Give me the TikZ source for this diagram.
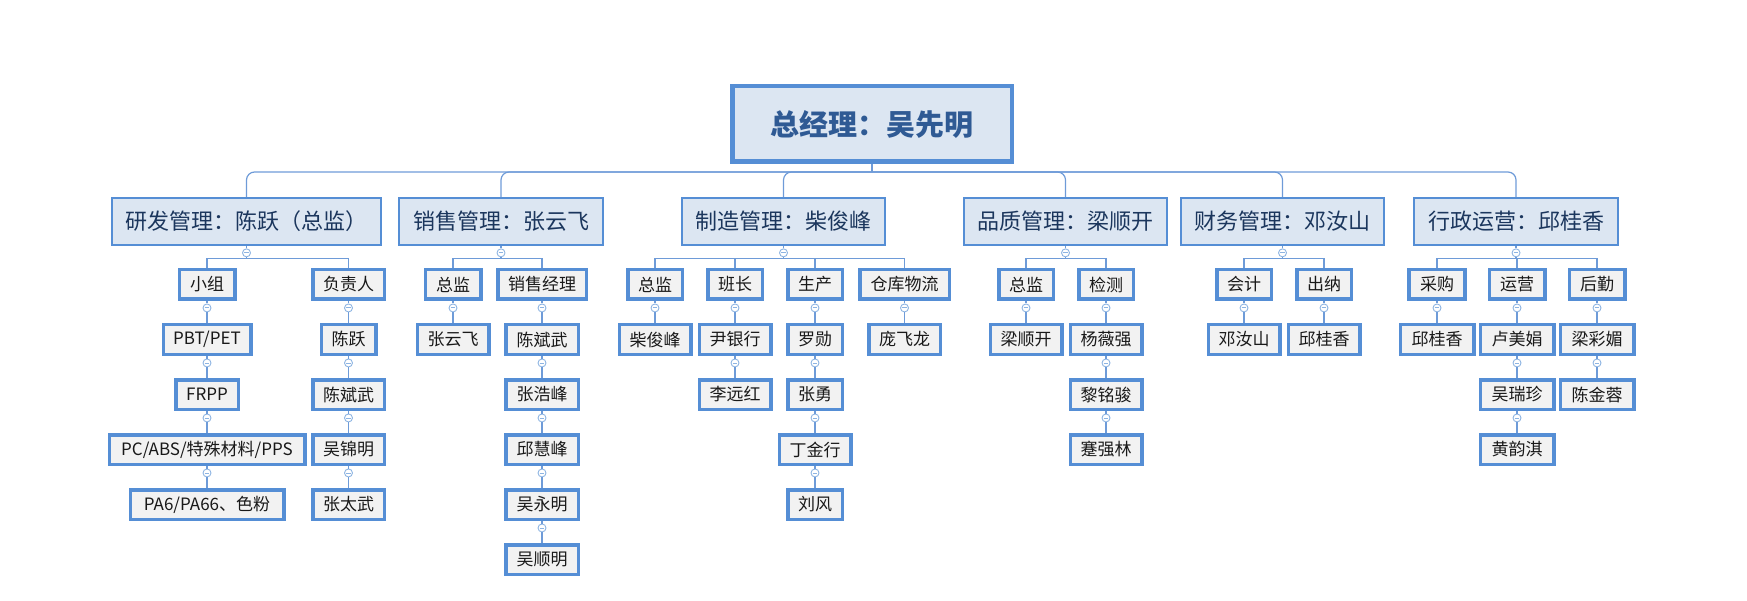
\documentclass[tikz,border=0pt]{standalone}
\usepackage{fontspec}
\setmainfont{Noto Sans CJK SC}
\usetikzlibrary{positioning}
\definecolor{bd}{HTML}{558ED5}
\definecolor{lonefill}{HTML}{DCE6F2}
\definecolor{ltwofill}{HTML}{F2F2F2}
\definecolor{roottxt}{HTML}{2F5A94}
\definecolor{lonetxt}{HTML}{1B365D}
\definecolor{ln}{HTML}{6E9BD8}
\definecolor{cc}{HTML}{8DB4E2}
\newcommand\mylink[2]{%
  \node[coll, below=2.5pt of #1] (k#1) {};
  \draw[conn] (#1.south) -- (k#1.north);
  \draw[conn] (k#1.south) -- (#2.north);}
\newcommand\myfan[2]{%
  \node[coll, below=2.5pt of #1] (k#1) {};
  \draw[conn] (#1.south) -- (k#1.north);
  \draw[conn] (k#1.south) -- ++(0,1.5) coordinate (h#1);
  \foreach \c in {#2} {\draw[conn] (h#1) -| (\c.north);}}
\begin{document}
\begin{tikzpicture}[x=1pt,y=-1pt,
  rootbox/.style={draw=bd, line width=4.5pt, fill=lonefill, minimum width=279.5pt, minimum height=75.5pt, inner sep=0pt, font=\fontsize{29}{32}\selectfont\bfseries, text=roottxt},
  lone/.style={draw=bd, line width=1.8pt, fill=lonefill, minimum height=47pt, inner sep=0pt, font=\fontsize{22}{26}\selectfont, text=lonetxt},
  ltwo/.style={draw=bd, line width=3.5pt, fill=ltwofill, minimum height=29.5pt, inner sep=0pt, font=\fontsize{17}{20}\selectfont, text=black!90},
  coll/.style={circle, draw=cc, fill=white, line width=0.9pt, minimum size=8pt, inner sep=0pt,
    path picture={\draw[cc,line width=0.9pt] ([xshift=-2.4pt]path picture bounding box.center) -- ([xshift=2.4pt]path picture bounding box.center);}},
  conn/.style={draw=ln, line width=1.2pt}]
\useasboundingbox (0,0) rectangle (1747,601);
% root
\node[rootbox] (root) at (872,124) {总经理：吴先明};
% level 1
\node[lone, minimum width=269pt] (A) at (246.5,221.5) {研发管理：陈跃（总监）};
\node[lone, minimum width=204pt] (B) at (501,221.5) {销售管理：张云飞};
\node[lone, minimum width=203pt] (C) at (783.5,221.5) {制造管理：柴俊峰};
\node[lone, minimum width=203pt] (D) at (1065.5,221.5) {品质管理：梁顺开};
\node[lone, minimum width=203pt] (E) at (1282.5,221.5) {财务管理：邓汝山};
\node[lone, minimum width=204pt] (F) at (1516,221.5) {行政运营：邱桂香};
% group A
\node[ltwo, minimum width=55.5pt] (a1) at (207,284.5) {小组};
\node[ltwo, minimum width=71.5pt] (a2) at (348.5,284.5) {负责人};
\node[ltwo, minimum width=87.5pt] (a11) at (207,339.5) {PBT/PET};
\node[ltwo, minimum width=62.5pt] (a12) at (207,394.5) {FRPP};
\node[ltwo, minimum width=195.5pt] (a13) at (207,449.5) {PC/ABS/特殊材料/PPS};
\node[ltwo, minimum width=153.5pt] (a14) at (207,504.5) {PA6/PA66、色粉};
\node[ltwo, minimum width=54.5pt] (a21) at (348.5,339.5) {陈跃};
\node[ltwo, minimum width=71.5pt] (a22) at (348.5,394.5) {陈斌武};
\node[ltwo, minimum width=71.5pt] (a23) at (348.5,449.5) {吴锦明};
\node[ltwo, minimum width=71.5pt] (a24) at (348.5,504.5) {张太武};
% group B
\node[ltwo, minimum width=55.5pt] (b1) at (453,284.5) {总监};
\node[ltwo, minimum width=88.5pt] (b2) at (542,284.5) {销售经理};
\node[ltwo, minimum width=71.5pt] (b11) at (453,339.5) {张云飞};
\node[ltwo, minimum width=72.5pt] (b21) at (542,339.5) {陈斌武};
\node[ltwo, minimum width=72.5pt] (b22) at (542,394.5) {张浩峰};
\node[ltwo, minimum width=72.5pt] (b23) at (542,449.5) {邱慧峰};
\node[ltwo, minimum width=72.5pt] (b24) at (542,504.5) {吴永明};
\node[ltwo, minimum width=72.5pt] (b25) at (542,559.5) {吴顺明};
% group C
\node[ltwo, minimum width=54.5pt] (c1) at (655,284.5) {总监};
\node[ltwo, minimum width=54.5pt] (c2) at (735,284.5) {班长};
\node[ltwo, minimum width=54.5pt] (c3) at (815,284.5) {生产};
\node[ltwo, minimum width=89.5pt] (c4) at (904.5,284.5) {仓库物流};
\node[ltwo, minimum width=71.5pt] (c11) at (655,339.5) {柴俊峰};
\node[ltwo, minimum width=71.5pt] (c21) at (735,339.5) {尹银行};
\node[ltwo, minimum width=71.5pt] (c22) at (735,394.5) {李远红};
\node[ltwo, minimum width=54.5pt] (c31) at (815,339.5) {罗勋};
\node[ltwo, minimum width=54.5pt] (c32) at (815,394.5) {张勇};
\node[ltwo, minimum width=71.5pt] (c33) at (815,449.5) {丁金行};
\node[ltwo, minimum width=54.5pt] (c34) at (815,504.5) {刘风};
\node[ltwo, minimum width=71.5pt] (c41) at (904.5,339.5) {庞飞龙};
% group D
\node[ltwo, minimum width=54.5pt] (d1) at (1026,284.5) {总监};
\node[ltwo, minimum width=54.5pt] (d2) at (1106,284.5) {检测};
\node[ltwo, minimum width=71.5pt] (d11) at (1026,339.5) {梁顺开};
\node[ltwo, minimum width=71.5pt] (d21) at (1106,339.5) {杨薇强};
\node[ltwo, minimum width=71.5pt] (d22) at (1106,394.5) {黎铭骏};
\node[ltwo, minimum width=71.5pt] (d23) at (1106,449.5) {蹇强林};
% group E
\node[ltwo, minimum width=54.5pt] (e1) at (1244,284.5) {会计};
\node[ltwo, minimum width=54.5pt] (e2) at (1324,284.5) {出纳};
\node[ltwo, minimum width=71.5pt] (e11) at (1244,339.5) {邓汝山};
\node[ltwo, minimum width=71.5pt] (e21) at (1324,339.5) {邱桂香};
% group F
\node[ltwo, minimum width=56pt] (f1) at (1437,284.5) {采购};
\node[ltwo, minimum width=55.5pt] (f2) at (1517,284.5) {运营};
\node[ltwo, minimum width=55.5pt] (f3) at (1597,284.5) {后勤};
\node[ltwo, minimum width=73.5pt] (f11) at (1437,339.5) {邱桂香};
\node[ltwo, minimum width=73.5pt] (f21) at (1517,339.5) {卢美娟};
\node[ltwo, minimum width=73.5pt] (f22) at (1517,394.5) {吴瑞珍};
\node[ltwo, minimum width=73.5pt] (f23) at (1517,449.5) {黄韵淇};
\node[ltwo, minimum width=73.5pt] (f31) at (1597,339.5) {梁彩媚};
\node[ltwo, minimum width=73.5pt] (f32) at (1597,394.5) {陈金蓉};
% top connectors
\coordinate (bar) at (872,172);
\draw[conn] (root.south) -- (bar);
\foreach \n in {A,B,C,D,E,F} {\draw[conn, rounded corners=8pt] (\n.north) |- (bar);}
% fans
\myfan{A}{a1,a2}
\myfan{B}{b1,b2}
\myfan{C}{c1,c2,c3,c4}
\myfan{D}{d1,d2}
\myfan{E}{e1,e2}
\myfan{F}{f1,f2,f3}
% chains
\mylink{a1}{a11}\mylink{a11}{a12}\mylink{a12}{a13}\mylink{a13}{a14}
\mylink{a2}{a21}\mylink{a21}{a22}\mylink{a22}{a23}\mylink{a23}{a24}
\mylink{b1}{b11}
\mylink{b2}{b21}\mylink{b21}{b22}\mylink{b22}{b23}\mylink{b23}{b24}\mylink{b24}{b25}
\mylink{c1}{c11}
\mylink{c2}{c21}\mylink{c21}{c22}
\mylink{c3}{c31}\mylink{c31}{c32}\mylink{c32}{c33}\mylink{c33}{c34}
\mylink{c4}{c41}
\mylink{d1}{d11}
\mylink{d2}{d21}\mylink{d21}{d22}\mylink{d22}{d23}
\mylink{e1}{e11}
\mylink{e2}{e21}
\mylink{f1}{f11}
\mylink{f2}{f21}\mylink{f21}{f22}\mylink{f22}{f23}
\mylink{f3}{f31}\mylink{f31}{f32}
\end{tikzpicture}
\end{document}
